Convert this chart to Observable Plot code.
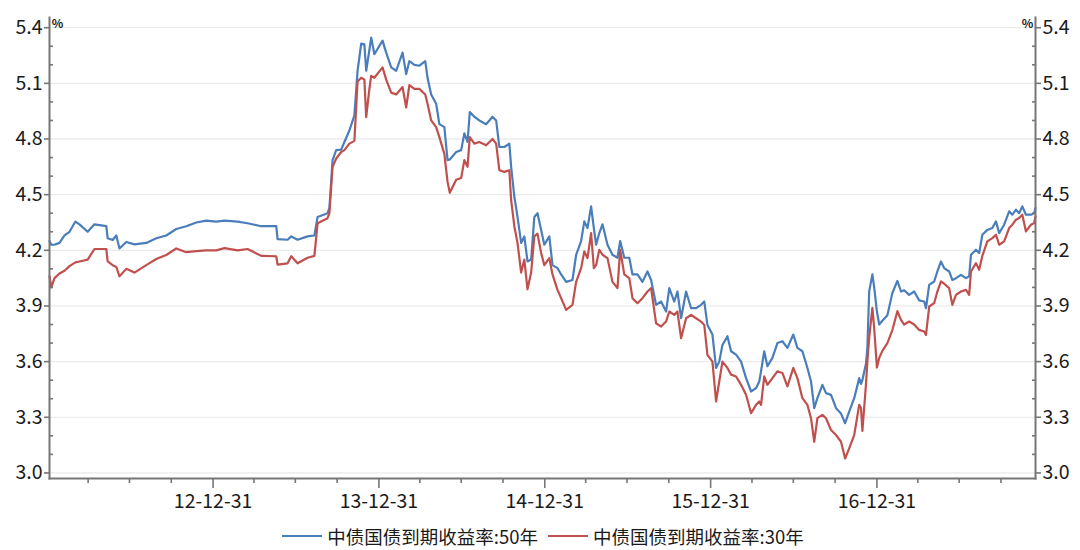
<!DOCTYPE html>
<html>
<head>
<meta charset="utf-8">
<script src="https://cdn.jsdelivr.net/npm/d3@7"></script>
<script src="https://cdn.jsdelivr.net/npm/@observablehq/plot@0.6"></script>
<style>
  html, body { margin: 0; padding: 0; background: #fff; }
  body { width: 1080px; height: 550px; overflow: hidden; font-family: "Noto Sans CJK SC", "Noto Sans", sans-serif; }
  #chart svg { display: block; }
  #legend { display: flex; justify-content: center; align-items: center; height: 20px; margin-top: 6px; font-size: 18.5px; line-height: 1; color: #1a1a1a; padding-left: 6px; }
  .item { display: flex; align-items: center; margin: 0 5px; }
  .swatch { width: 40px; height: 0; border-top: 2.5px solid; margin-right: 5px; }
</style>
</head>
<body>
<div id="chart"></div>
<div id="legend"></div>
<script>
// ---- data ----
const dates = [
  "2012-01-06","2012-01-10","2012-01-17","2012-01-28","2012-02-08","2012-02-19","2012-03-03","2012-03-12","2012-03-30","2012-04-14",
  "2012-05-10","2012-05-13","2012-05-24","2012-06-01","2012-06-08","2012-06-23","2012-07-11","2012-08-06","2012-08-28","2012-09-19",
  "2012-10-11","2012-11-02","2012-11-24","2012-12-16","2013-01-07",
  "2013-01-25","2013-02-23","2013-03-17","2013-04-16","2013-05-19","2013-05-22","2013-06-13","2013-06-21","2013-07-05","2013-07-27",
  "2013-08-11","2013-08-18","2013-09-09","2013-09-13","2013-09-20","2013-09-28","2013-10-09","2013-10-16","2013-10-27","2013-11-07",
  "2013-11-14","2013-11-22","2013-11-29","2013-12-03","2013-12-10","2013-12-14","2013-12-21",
  "2014-01-08","2014-01-16","2014-01-27","2014-02-07","2014-02-21","2014-03-01","2014-03-08","2014-03-19","2014-03-30","2014-04-12",
  "2014-04-17","2014-04-25","2014-05-06","2014-05-13","2014-05-24","2014-05-31","2014-06-05","2014-06-19","2014-06-30","2014-07-07",
  "2014-07-14","2014-07-19","2014-07-29","2014-08-09","2014-08-24","2014-09-07","2014-09-15","2014-09-22","2014-10-03","2014-10-14",
  "2014-10-18","2014-10-25","2014-11-01","2014-11-09","2014-11-16","2014-11-23","2014-12-01","2014-12-08","2014-12-15","2014-12-23",
  "2014-12-30","2015-01-10","2015-01-17","2015-01-28","2015-02-05","2015-02-16","2015-03-02","2015-03-10","2015-03-21","2015-03-28",
  "2015-04-04","2015-04-12","2015-04-18","2015-04-23","2015-04-30","2015-05-07","2015-05-18","2015-05-29","2015-06-09","2015-06-15",
  "2015-06-24","2015-07-05","2015-07-12","2015-07-23","2015-08-03","2015-08-14","2015-08-22","2015-09-02","2015-09-13","2015-09-24",
  "2015-10-01","2015-10-12","2015-10-19","2015-10-27","2015-11-07","2015-11-18","2015-11-29","2015-12-10","2015-12-17","2015-12-24",
  "2016-01-04","2016-01-12","2016-01-19","2016-01-26","2016-02-06","2016-02-14","2016-02-25","2016-03-07","2016-03-18","2016-03-29",
  "2016-04-09","2016-04-16","2016-04-20","2016-04-27","2016-05-04","2016-05-15","2016-05-26","2016-06-06","2016-06-17","2016-06-30",
  "2016-07-09","2016-07-20","2016-07-31","2016-08-08","2016-08-15","2016-08-22","2016-09-02","2016-09-10","2016-09-21","2016-10-02",
  "2016-10-13","2016-10-22","2016-10-31","2016-11-11",
  "2016-11-22","2016-11-26","2016-11-29","2016-12-07","2016-12-10","2016-12-14","2016-12-21","2016-12-25","2016-12-31",
  "2017-01-05","2017-01-12","2017-01-23","2017-02-03","2017-02-14","2017-02-22","2017-03-01","2017-03-12","2017-03-23","2017-04-03",
  "2017-04-14","2017-04-18","2017-04-25","2017-05-06","2017-05-13","2017-05-21","2017-05-28","2017-06-08","2017-06-15","2017-06-23",
  "2017-07-04","2017-07-15","2017-07-22","2017-07-26","2017-08-06","2017-08-13","2017-08-20","2017-08-31","2017-09-11","2017-09-19",
  "2017-09-26","2017-10-07","2017-10-18","2017-10-25","2017-11-02","2017-11-09","2017-11-16","2017-11-24","2017-12-05","2017-12-12",
  "2017-12-15"
];
const yield50 = [
  4.25,4.23,4.23,4.24,4.28,4.30,4.355,4.34,4.30,4.34,
  4.33,4.265,4.256,4.28,4.21,4.245,4.232,4.24,4.265,4.28,
  4.315,4.33,4.35,4.36,4.355,
  4.36,4.355,4.346,4.33,4.33,4.26,4.257,4.275,4.257,4.275,
  4.28,4.38,4.40,4.427,4.686,4.74,4.743,4.784,4.846,4.927,
  5.168,5.314,5.31,5.168,5.28,5.347,5.257,
  5.33,5.266,5.186,5.168,5.266,5.15,5.22,5.20,5.195,5.22,
  5.13,5.04,4.99,4.88,4.864,4.686,4.69,4.73,4.74,4.83,
  4.784,4.945,4.92,4.90,4.88,4.92,4.90,4.757,4.757,4.775,
  4.65,4.49,4.38,4.24,4.275,4.14,4.15,4.38,4.40,4.31,
  4.23,4.275,4.12,4.104,4.07,4.03,4.04,4.176,4.25,4.356,
  4.32,4.437,4.32,4.23,4.293,4.34,4.23,4.176,4.16,4.25,
  4.16,4.16,4.07,4.07,4.03,4.086,4.04,3.906,3.924,3.87,
  3.996,3.924,3.978,3.834,3.978,3.888,3.888,3.906,3.924,3.798,
  3.746,3.566,3.60,3.69,3.737,3.656,3.638,3.60,3.511,3.439,
  3.457,3.493,3.548,3.656,3.575,3.62,3.70,3.71,3.674,3.746,
  3.674,3.656,3.566,3.493,3.349,3.403,3.475,3.43,3.421,3.349,
  3.32,3.268,3.33,3.403,
  3.511,3.48,3.50,3.59,3.676,3.98,4.07,4.0,3.87,
  3.80,3.82,3.85,3.97,4.035,3.978,3.985,3.96,3.978,3.93,
  3.924,3.888,4.014,4.032,4.086,4.14,4.104,4.086,4.04,4.05,
  4.068,4.05,4.06,4.176,4.203,4.185,4.284,4.31,4.32,4.356,
  4.293,4.338,4.41,4.392,4.419,4.40,4.437,4.392,4.392,4.40,
  4.428
];
const yield30 = [
  4.06,4.00,4.05,4.075,4.09,4.115,4.135,4.14,4.15,4.207,
  4.207,4.14,4.12,4.11,4.06,4.10,4.08,4.12,4.153,4.175,
  4.21,4.19,4.196,4.20,4.20,
  4.212,4.20,4.207,4.17,4.168,4.123,4.13,4.168,4.13,4.16,
  4.17,4.346,4.373,4.40,4.65,4.695,4.73,4.74,4.775,4.79,
  5.11,5.13,5.12,4.918,5.07,5.14,5.13,
  5.186,5.12,5.05,5.04,5.08,4.97,5.09,5.07,5.07,5.04,
  4.99,4.90,4.864,4.81,4.72,4.57,4.51,4.58,4.59,4.686,
  4.65,4.81,4.775,4.784,4.766,4.80,4.775,4.632,4.623,4.632,
  4.47,4.33,4.24,4.08,4.15,3.99,4.08,4.275,4.29,4.186,
  4.12,4.158,4.07,3.987,3.942,3.879,3.906,4.03,4.104,4.194,
  4.158,4.293,4.104,4.12,4.203,4.176,4.158,4.03,3.996,4.203,
  4.07,4.05,3.942,3.915,3.942,3.978,3.996,3.807,3.789,3.816,
  3.87,3.852,3.87,3.726,3.834,3.852,3.834,3.816,3.798,3.636,
  3.60,3.385,3.493,3.60,3.566,3.53,3.52,3.475,3.421,3.322,
  3.367,3.385,3.367,3.52,3.475,3.511,3.548,3.539,3.466,3.566,
  3.511,3.403,3.367,3.295,3.168,3.295,3.313,3.295,3.231,3.204,
  3.168,3.078,3.132,3.204,
  3.367,3.35,3.226,3.48,3.60,3.73,3.89,3.78,3.568,
  3.62,3.658,3.70,3.77,3.872,3.825,3.80,3.816,3.80,3.771,
  3.762,3.744,3.897,3.915,3.978,4.032,4.02,3.996,3.906,3.96,
  3.978,3.987,3.96,4.086,4.131,4.095,4.17,4.248,4.266,4.284,
  4.23,4.248,4.32,4.338,4.365,4.374,4.392,4.302,4.338,4.347,
  4.383
];
const seriesNames = ["中债国债到期收益率:50年", "中债国债到期收益率:30年"];
const seriesColors = ["#4a7ebb", "#c0504d"];
const yTicks = [3.0, 3.3, 3.6, 3.9, 4.2, 4.5, 4.8, 5.1, 5.4];
const yMinorTicks = [3.1,3.2,3.4,3.5,3.7,3.8,4.0,4.1,4.3,4.4,4.6,4.7,4.9,5.0,5.2,5.3];
const xMajorTicks = ["2012-12-31","2013-12-31","2014-12-31","2015-12-31","2016-12-31"];
const xMinorTicks = [
  "2012-03-31","2012-06-30","2012-09-30",
  "2013-03-31","2013-06-30","2013-09-30",
  "2014-03-31","2014-06-30","2014-09-30",
  "2015-03-31","2015-06-30","2015-09-30",
  "2016-03-31","2016-06-30","2016-09-30",
  "2017-03-31","2017-06-30","2017-09-30"
];
const yDomain = [2.97, 5.455];
const unitLabel = "%";

// ---- build ----
const table = dates.map((d, i) => ({ date: new Date(d), v50: yield50[i], v30: yield30[i] }));
const xDomain = [new Date(dates[0]), new Date(dates[dates.length - 1])];
const axisColor = "#767676";
const textColor = "#1a1a1a";
const fmtDate = d3.utcFormat("%y-%m-%d");
const noText = () => "";
const fs = 19.5;

const chart = Plot.plot({
  width: 1080,
  height: 520,
  marginLeft: 49,
  marginRight: 45,
  marginTop: 17,
  marginBottom: 42,
  style: { fontFamily: "'Noto Sans CJK SC', 'Noto Sans', sans-serif", fontSize: fs + "px", color: textColor, background: "white", overflow: "visible" },
  x: { type: "utc", domain: xDomain },
  y: { domain: yDomain },
  marks: [
    Plot.ruleY(yTicks, { stroke: "#ebebeb", strokeWidth: 1.3 }),
    Plot.line(table, { x: "date", y: "v50", stroke: seriesColors[0], strokeWidth: 2.2 }),
    Plot.line(table, { x: "date", y: "v30", stroke: seriesColors[1], strokeWidth: 2.2 }),
    Plot.frame({ anchor: "left", stroke: axisColor, strokeWidth: 2 }),
    Plot.frame({ anchor: "right", stroke: axisColor, strokeWidth: 2 }),
    Plot.frame({ anchor: "bottom", stroke: axisColor, strokeWidth: 2 }),
    Plot.axisY(yTicks, { anchor: "left", tickSize: 5, tickPadding: 2, tickFormat: d => d.toFixed(1), stroke: axisColor, strokeWidth: 1.6, fill: textColor, fontSize: fs, label: null }),
    Plot.axisY(yTicks, { anchor: "right", tickSize: 5, tickPadding: 2, tickFormat: d => d.toFixed(1), stroke: axisColor, strokeWidth: 1.6, fill: textColor, fontSize: fs, label: null }),
    Plot.axisY(yMinorTicks, { anchor: "left", tickSize: 4, dx: 4, tickFormat: noText, stroke: axisColor, strokeWidth: 1.6, label: null }),
    Plot.axisY(yMinorTicks, { anchor: "right", tickSize: 4, dx: -4, tickFormat: noText, stroke: axisColor, strokeWidth: 1.6, label: null }),
    Plot.axisX(xMajorTicks.map(d => new Date(d)), { anchor: "bottom", tickSize: 10, tickPadding: 6, tickFormat: fmtDate, stroke: axisColor, strokeWidth: 1.6, fill: textColor, fontSize: fs, label: null }),
    Plot.axisX(xMinorTicks.map(d => new Date(d)), { anchor: "bottom", tickSize: 5, tickFormat: noText, stroke: axisColor, strokeWidth: 1.6, label: null }),
    Plot.text([unitLabel], { frameAnchor: "top-left", dx: 8, dy: 2, textAnchor: "middle", fontSize: 12, fontWeight: "bold", fill: textColor }),
    Plot.text([unitLabel], { frameAnchor: "top-right", dx: -8, dy: 2, textAnchor: "middle", fontSize: 12, fontWeight: "bold", fill: textColor })
  ]
});
document.getElementById("chart").append(chart);

// legend
const legend = document.getElementById("legend");
seriesNames.forEach((name, i) => {
  const item = document.createElement("div");
  item.className = "item";
  const sw = document.createElement("span");
  sw.className = "swatch";
  sw.style.borderTopColor = seriesColors[i];
  const label = document.createElement("span");
  label.textContent = name;
  item.append(sw, label);
  legend.append(item);
});
</script>
</body>
</html>
